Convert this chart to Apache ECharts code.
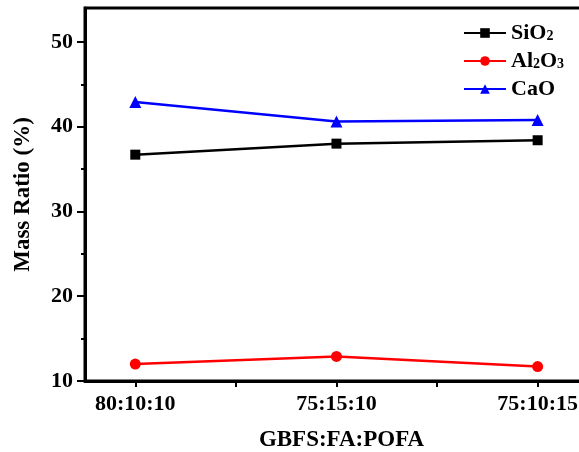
<!DOCTYPE html>
<html>
<head>
<meta charset="utf-8">
<script src="https://cdn.jsdelivr.net/npm/echarts@6/dist/echarts.min.js"></script>
<style>
  html, body { margin: 0; padding: 0; background: #fff; }
  #chart { width: 579px; height: 452px; }
</style>
</head>
<body>
<div id="chart"></div>
<script>
// mix ratios on the x axis
var categories = ['80:10:10', '75:15:10', '75:10:15'];
// mass ratio (%)
var sio2 = [36.7, 38.0, 38.4];
var al2o3 = [12.0, 12.9, 11.7];
var cao = [42.9, 40.6, 40.8];
var yTicks = [10, 20, 30, 40, 50];
var yMinorTicks = [15, 25, 35, 45];

function pts(vals) {
    return vals.map(function (v, i) { return [i, v]; });
}

var font = '"Liberation Serif", "Times New Roman", serif';
var chart = echarts.init(document.getElementById('chart'));

var option = {
    animation: false,
    backgroundColor: '#fff',
    textStyle: { fontFamily: font },
    grid: {
        left: 85, top: 8, width: 513, height: 373,
        outerBoundsMode: 'none', containLabel: false,
        show: true, borderColor: '#000', borderWidth: 3, backgroundColor: 'transparent'
    },
    legend: {
        left: 463, top: 22, padding: 0,
        orient: 'vertical',
        itemWidth: 42, itemHeight: 12, itemGap: 6,
        textStyle: {
            fontFamily: font, fontWeight: 'bold', fontSize: 22, color: '#000',
            rich: {
                b: { fontFamily: font, fontWeight: 'bold', fontSize: 22, color: '#000' },
                s: { fontFamily: font, fontWeight: 'bold', fontSize: 14, color: '#000', padding: [7, 0, 0, 0] }
            }
        },
        formatter: function (name) {
            if (name === 'SiO2') return '{b|SiO}{s|2}';
            if (name === 'Al2O3') return '{b|Al}{s|2}{b|O}{s|3}';
            return '{b|' + name + '}';
        },
        data: ['SiO2', 'Al2O3', 'CaO']
    },
    xAxis: {
        type: 'value',
        min: -0.25, max: 2.3,
        name: 'GBFS:FA:POFA',
        nameLocation: 'middle',
        nameGap: 48,
        nameTextStyle: { fontFamily: font, fontWeight: 'bold', fontSize: 23, color: '#000' },
        splitLine: { show: false },
        axisLine: { onZero: false, lineStyle: { color: '#000', width: 3 } },
        axisTick: { customValues: [0, 0.5, 1, 1.5, 2], length: 6, lineStyle: { color: '#000', width: 2 } },
        axisLabel: {
            customValues: [0, 1, 2],
            margin: 12,
            fontFamily: font, fontWeight: 'bold', fontSize: 22, color: '#000',
            formatter: function (v) { return categories[Math.round(v)]; }
        }
    },
    yAxis: [{
        type: 'value',
        min: 10, max: 54,
        name: 'Mass Ratio (%)',
        nameLocation: 'middle',
        nameGap: 50,
        nameTextStyle: { fontFamily: font, fontWeight: 'bold', fontSize: 23, color: '#000' },
        splitLine: { show: false },
        axisLine: { onZero: false, lineStyle: { color: '#000', width: 3 } },
        axisTick: { customValues: yTicks, length: 8, lineStyle: { color: '#000', width: 2 } },
        axisLabel: {
            customValues: yTicks,
            margin: 12,
            fontFamily: font, fontWeight: 'bold', fontSize: 22, color: '#000'
        }
    }, {
        type: 'value',
        position: 'left',
        min: 10, max: 54,
        splitLine: { show: false },
        axisLine: { show: false, onZero: false },
        axisTick: { customValues: yMinorTicks, length: 4, lineStyle: { color: '#000', width: 2 } },
        axisLabel: { show: false }
    }],
    series: [{
        name: 'SiO2', type: 'line', data: pts(sio2),
        symbol: 'rect', symbolSize: 10,
        itemStyle: { color: '#000' }, lineStyle: { color: '#000', width: 2.5 }
    }, {
        name: 'Al2O3', type: 'line', data: pts(al2o3),
        symbol: 'circle', symbolSize: 11,
        itemStyle: { color: '#ff0000' }, lineStyle: { color: '#ff0000', width: 2.5 }
    }, {
        name: 'CaO', type: 'line', data: pts(cao),
        symbol: 'triangle', symbolSize: 12,
        itemStyle: { color: '#0000ff' }, lineStyle: { color: '#0000ff', width: 2.5 }
    }]
};
chart.setOption(option);
</script>
</body>
</html>
